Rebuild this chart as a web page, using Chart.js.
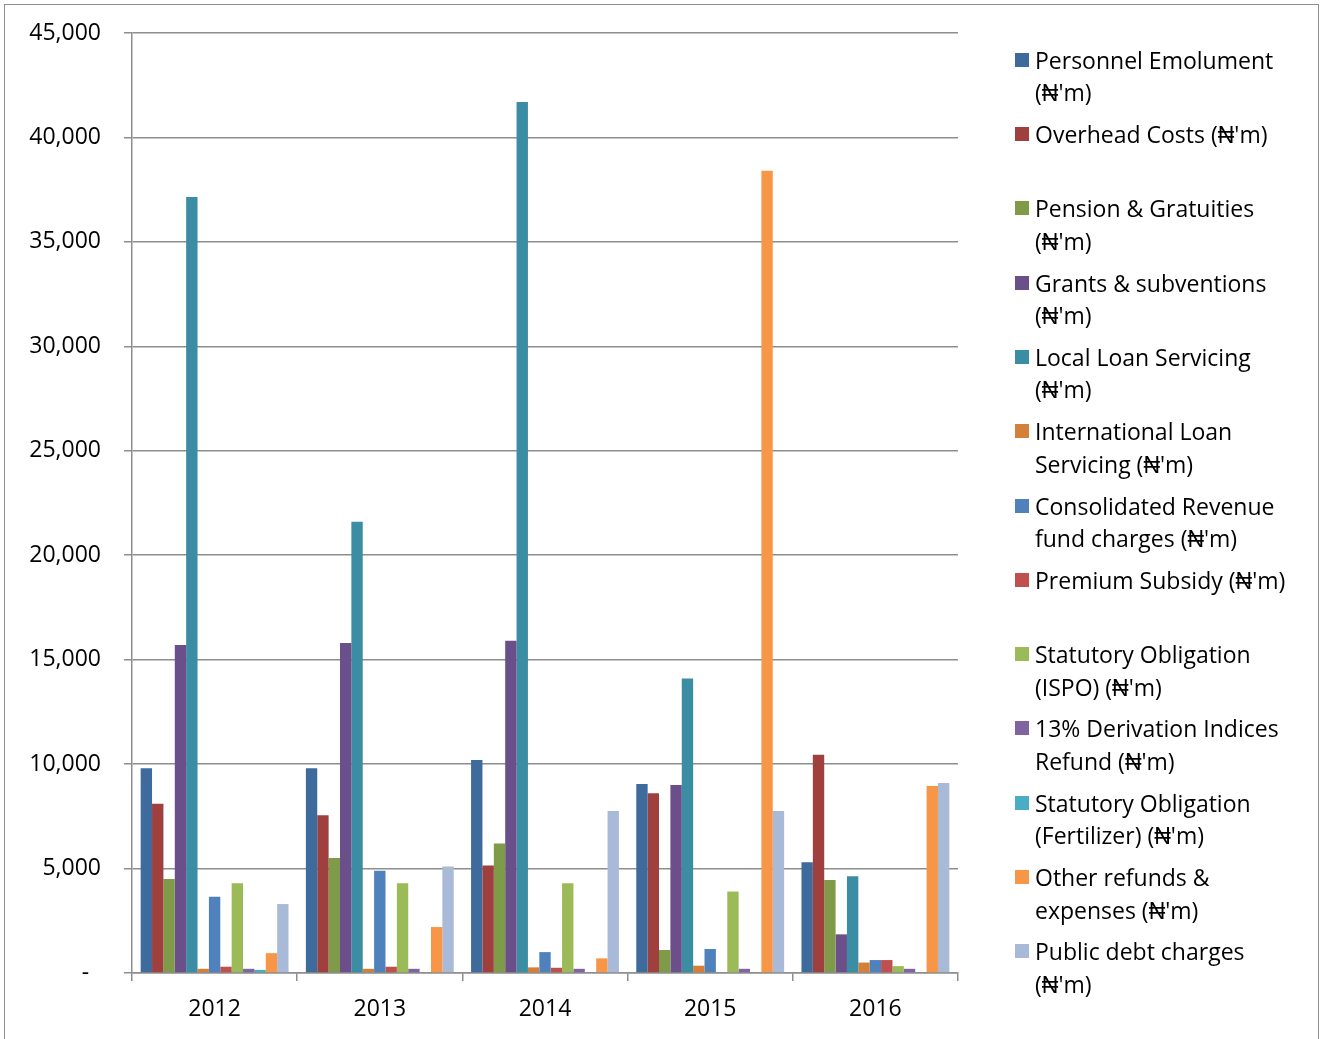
<!DOCTYPE html>
<html>
<head>
<meta charset="utf-8">
<script src="https://cdn.jsdelivr.net/npm/chart.js@4.4.1/dist/chart.umd.min.js"></script>
<style>
  html, body { margin: 0; padding: 0; background: #fff; overflow: hidden; }
  #wrap { position: relative; width: 1320px; height: 1039px; }
  #frame { position: absolute; left: 4px; top: 4px; width: 1315px; height: 1040px;
           border: 1.5px solid #8f8f8f; border-bottom: none; box-sizing: border-box; }
  #grafico { position: absolute; left: 0; top: 0; }
  .item { position: absolute; left: 1015px; font-family: "Open Sans", sans-serif;
          font-size: 23px; line-height: 32.5px; color: #000; white-space: nowrap; }
  .item .box { position: absolute; left: 0; top: 9px; width: 14px; height: 14px; }
  .item .txt { position: absolute; left: 20px; top: 0; }
</style>
</head>
<body>
<div id="wrap">
  <div id="frame"></div>
  <canvas id="grafico" width="1320" height="1039"></canvas>
  <div id="legenda"></div>
</div>
<script>
const anos = ["2012", "2013", "2014", "2015", "2016"];

const nomes = [
  ["Personnel Emolument", "(₦'m)"],
  ["Overhead Costs (₦'m)"],
  ["Pension & Gratuities", "(₦'m)"],
  ["Grants & subventions", "(₦'m)"],
  ["Local Loan Servicing", "(₦'m)"],
  ["International Loan", "Servicing (₦'m)"],
  ["Consolidated Revenue", "fund charges (₦'m)"],
  ["Premium Subsidy (₦'m)"],
  ["Statutory Obligation", "(ISPO) (₦'m)"],
  ["13% Derivation Indices", "Refund (₦'m)"],
  ["Statutory Obligation", "(Fertilizer) (₦'m)"],
  ["Other refunds &", "expenses (₦'m)"],
  ["Public debt charges", "(₦'m)"]
];

const cores = [
  "#3f6a9c", "#a0403e", "#7f9a48", "#6a4f8a", "#3b8da3", "#d4803a",
  "#4f81bd", "#c0504d", "#9bbb59", "#8064a2", "#4bacc6", "#f79646", "#a9b9d8"
];

// valores por série (2012..2016), em milhões de naira
const pessoal      = [9800, 9800, 10200, 9050, 5300];
const overhead     = [8100, 7550, 5150, 8600, 10450];
const pensao       = [4500, 5500, 6200, 1100, 4450];
const subvencoes   = [15700, 15800, 15900, 9000, 1850];
const emprestLocal = [37150, 21600, 41700, 14100, 4630];
const emprestIntl  = [200, 200, 270, 350, 500];
const receitaCons  = [3650, 4900, 1000, 1150, 620];
const subsidio     = [300, 300, 250, null, 620];
const ispo         = [4300, 4300, 4300, 3900, 330];
const derivacao    = [200, 200, 200, 200, 200];
const fertilizante = [150, null, null, null, null];
const outros       = [950, 2200, 700, 38400, 8950];
const dividaPub    = [3300, 5100, 7750, 7750, 9100];

const series = [pessoal, overhead, pensao, subvencoes, emprestLocal, emprestIntl,
  receitaCons, subsidio, ispo, derivacao, fertilizante, outros, dividaPub];

const ticksY = [0, 5000, 10000, 15000, 20000, 25000, 30000, 35000, 40000, 45000];

const corGrade = "#8e8e8e";

const ctx = document.getElementById("grafico").getContext("2d");
new Chart(ctx, {
  type: "bar",
  data: {
    labels: anos,
    datasets: series.map((s, i) => ({
      label: nomes[i].join(" "),
      data: s,
      backgroundColor: cores[i],
      borderWidth: 0,
      categoryPercentage: 0.895,
      barPercentage: 1.0
    }))
  },
  options: {
    responsive: false,
    devicePixelRatio: 1,
    animation: false,
    layout: { padding: { top: 33, right: 362, bottom: 0, left: 0 } },
    plugins: {
      legend: { display: false },
      tooltip: { enabled: false }
    },
    scales: {
      x: {
        afterFit: scale => { scale.height = 66; scale.paddingLeft = 0; scale.paddingRight = 0; },
        grid: { offset: true, drawOnChartArea: false, tickLength: 8, color: corGrade, lineWidth: 1.5 },
        border: { color: corGrade, width: 1.5 },
        ticks: {
          color: "#000",
          padding: 15,
          font: { family: "Open Sans", size: 23 }
        }
      },
      y: {
        min: 0,
        max: 45000,
        afterFit: scale => { scale.width = 132; scale.paddingTop = 0; scale.paddingBottom = 0; },
        afterBuildTicks: scale => { scale.ticks = ticksY.map(v => ({ value: v })); },
        grid: { color: corGrade, lineWidth: 1.5, tickLength: 8 },
        border: { color: corGrade, width: 1.5 },
        ticks: {
          color: "#000",
          padding: 23,
          font: { family: "Open Sans", size: 23 },
          callback: v => v === 0 ? "-  " : v.toLocaleString("en-US")
        }
      }
    }
  }
});

const legenda = document.getElementById("legenda");
nomes.forEach((linhas, i) => {
  const item = document.createElement("div");
  item.className = "item";
  item.style.top = (60 + i * 74.3 - 16.25) + "px";
  item.innerHTML = '<span class="box" style="background:' + cores[i] + '"></span>' +
    '<span class="txt">' + linhas.map(l => l.replace(/&/g, "&amp;")).join("<br>") + "</span>";
  legenda.appendChild(item);
});
</script>
</body>
</html>
